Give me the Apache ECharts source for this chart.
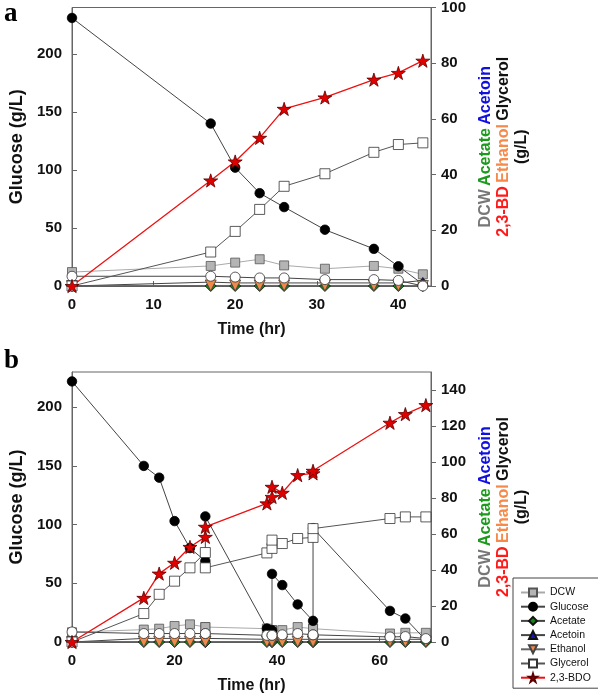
<!DOCTYPE html>
<html><head><meta charset="utf-8">
<script src="https://cdn.jsdelivr.net/npm/echarts@6/dist/echarts.min.js"></script>
<style>html,body{margin:0;padding:0;background:#fff}#c{width:598px;height:698px}</style>
</head><body><div id="c"></div>
<script>
// ---- Panel a ----
const timeA     = [0, 17, 20, 23, 26, 31, 37, 40, 43];
const glucoseA  = [231, 140, 102, 80, 68, 48.5, 32, 17, 1.5];
const dcwA      = [5.0, 7.2, 8.4, 9.6, 7.4, 6.2, 7.2, 6.2, 4.2];
const acetateA  = [0, 0, 0, 0, 0, 0, 0, 0, 0];
const acetoinA  = [0, 1.4, 1.1, 1.1, 1.1, 1.1, 1.1, 1.1, 2];
const ethanolA  = [0, 0.2, 0.2, 0.2, 0.2, 0.2, 0.2, 0.2, 0];
const glycerolA = [0, 12.2, 19.6, 27.5, 35.8, 40.3, 48, 50.8, 51.4];
const bdoA      = [0, 37.9, 44.7, 53.2, 63.6, 67.7, 74.1, 76.5, 80.9];
const otherA    = [3.5, 3.5, 3.2, 2.9, 2.9, 2.3, 2.3, 2.0, 0];
// ---- Panel b ----
const timeB     = [0, 14, 17, 20, 23, 26, 26, 38, 39, 39, 41, 44, 47, 47, 62, 65, 69];
const glucoseB  = [222, 150, 140, 103, 80, 69, 107, 11.5, 10, 58, 48.5, 32, 18, 97, 26.5, 20, 1.5];
const dcwB      = [5.4, 6.9, 7.4, 8.9, 9.8, 8.3, 8.3, 7.4, 6.6, 6.6, 6.6, 8.3, 7.4, 7.4, 4.7, 5.1, 5.1];
const acetateB  = [0, 0, 0, 0, 0, 0, 0, 0, 0, 0, 0, 0, 0, 0, 0, 0, 0];
const acetoinB  = [0, 2, 2, 2, 2, 2, 2, 1.5, 1.5, 1.5, 1.5, 1.5, 1.5, 1.5, 1.5, 1.5, 1.5];
const ethanolB  = [0, 0.2, 0.2, 0.2, 0.2, 0.2, 0.2, 0.2, 0.2, 0.2, 0.2, 0.2, 0.2, 0.2, 0.2, 0.2, 0.2];
const glycerolB = [0, 15.8, 26.5, 33.8, 41.2, 49.7, 41.2, 49.5, 52, 56.6, 54.7, 57.5, 58.1, 63, 68.6, 69.5, 69.5];
const bdoB      = [0, 24.5, 38, 44, 52.8, 58.4, 64, 77, 80.6, 86.2, 82.9, 92.7, 93.7, 95.1, 121.8, 126.6, 131.6];
const otherB    = [5.6, 4.7, 4.7, 4.7, 4.7, 4.7, 4.7, 3.7, 3.7, 3.7, 4, 4.7, 4, 4, 2.8, 3, 1.9];
// ---- Axis ticks ----
const xTicksA = [0, 10, 20, 30, 40];
const xTicksB = [0, 20, 40, 60];
const glucoseTicks = [0, 50, 100, 150, 200];
const rightTicksA = [0, 20, 40, 60, 80, 100];
const rightTicksB = [0, 20, 40, 60, 80, 100, 120, 140];
const legendNames = ['DCW', 'Glucose', 'Acetate', 'Acetoin', 'Ethanol', 'Glycerol', '2,3-BDO'];

const FONT = 'Liberation Sans, Arial, sans-serif';
const STAR = 'path://M50,0 L61,35 L98,35 L68,57 L79,91 L50,70 L21,91 L32,57 L2,35 L39,35 Z';
const pairs = (t, v) => t.map((x, i) => [x, v[i]]);

const styles = {
  'DCW':      {symbol: 'rect', size: 9, fill: '#b4b4b4', border: '#555', line: '#aaaaaa'},
  'Glucose':  {symbol: 'circle', size: 9.5, fill: '#000', border: '#000', line: '#444'},
  'Acetate':  {symbol: 'diamond', size: 11, fill: '#1a7f1a', border: '#111', line: '#444'},
  'Acetoin':  {symbol: 'triangle', size: 6, fill: '#1515c8', border: '#111', line: '#444'},
  'Ethanol':  {symbol: 'triangle', size: 11, fill: '#f0894a', border: '#444', line: '#666', rot: 180},
  'Other':    {symbol: 'circle', size: 10, fill: '#fff', border: '#333', line: '#444'},
  'Glycerol': {symbol: 'rect', size: 10, fill: '#fff', border: '#333', line: '#555'},
  '2,3-BDO':  {symbol: STAR, size: 14, fill: '#e00000', border: '#5a0000', line: '#ee1010', lw: 1.3}
};

function mk(name, t, v, xi, yi) {
  const s = styles[name];
  return {
    name: name, type: 'line', xAxisIndex: xi, yAxisIndex: yi,
    data: pairs(t, v), symbol: s.symbol, symbolSize: s.size, symbolRotate: s.rot || 0,
    symbolKeepAspect: true, showAllSymbol: true,
    itemStyle: {color: s.fill, borderColor: s.border, borderWidth: 0.8},
    lineStyle: {color: s.line, width: s.lw || 1},
    emphasis: {disabled: true}, animation: false
  };
}

function seriesFor(t, d, xi, yl, yr) {
  return [
    mk('DCW', t, d.dcw, xi, yr),
    mk('Glucose', t, d.glucose, xi, yl),
    mk('Acetate', t, d.acetate, xi, yr),
    mk('Acetoin', t, d.acetoin, xi, yr),
    mk('Ethanol', t, d.ethanol, xi, yr),
    mk('Other', t, d.other, xi, yr),
    mk('Glycerol', t, d.glycerol, xi, yr),
    mk('2,3-BDO', t, d.bdo, xi, yr)
  ];
}

const lab = {fontFamily: FONT, fontWeight: 'bold', fontSize: 15, color: '#111'};
const axisLine = {show: true, lineStyle: {color: '#666', width: 1}};
const rightName = '{g|DCW} {gr|Acetate} {b|Acetoin}\n{r|2,3-BD} {o|Ethanol} {k|Glycerol}\n{k|(g/L)}';
const rich = {
  g: {color: '#777', fontFamily: FONT, fontWeight: 'bold', fontSize: 16},
  gr: {color: '#1c9a1c', fontFamily: FONT, fontWeight: 'bold', fontSize: 16},
  b: {color: '#1010e0', fontFamily: FONT, fontWeight: 'bold', fontSize: 16},
  r: {color: '#ff1a1a', fontFamily: FONT, fontWeight: 'bold', fontSize: 16},
  o: {color: '#f58a4a', fontFamily: FONT, fontWeight: 'bold', fontSize: 16},
  k: {color: '#111', fontFamily: FONT, fontWeight: 'bold', fontSize: 16}
};

function xAx(gi, max, ticks) {
  return {
    type: 'value', gridIndex: gi, min: 0, max: max,
    axisLine: axisLine, splitLine: {show: false},
    axisTick: {inside: true, length: 5, customValues: ticks, lineStyle: {color: '#666'}},
    axisLabel: Object.assign({margin: 11, customValues: ticks}, lab),
    name: 'Time (hr)', nameLocation: 'middle', nameGap: 36,
    nameTextStyle: {fontFamily: FONT, fontWeight: 'bold', fontSize: 16, color: '#111'}
  };
}
function yLeft(gi, max) {
  return {
    type: 'value', gridIndex: gi, position: 'left', min: 0, max: max,
    axisLine: axisLine, splitLine: {show: false},
    axisTick: {inside: true, length: 5, customValues: glucoseTicks, lineStyle: {color: '#666'}},
    axisLabel: Object.assign({margin: 10, customValues: glucoseTicks}, lab),
    name: 'Glucose (g/L)', nameLocation: 'middle', nameGap: 46, nameRotate: 90,
    nameTextStyle: {fontFamily: FONT, fontWeight: 'bold', fontSize: 18, color: '#111'}
  };
}
function yRight(gi, max, ticks) {
  return {
    type: 'value', gridIndex: gi, position: 'right', min: 0, max: max,
    axisLine: axisLine, splitLine: {show: false},
    axisTick: {inside: false, length: 5, customValues: ticks, lineStyle: {color: '#666'}},
    axisLabel: Object.assign({margin: 10, customValues: ticks}, lab),
    name: rightName, nameLocation: 'middle', nameGap: 41, nameRotate: 90,
    nameTextStyle: {rich: rich, lineHeight: 18, align: 'center'}
  };
}

const option = {
  animation: false,
  backgroundColor: '#fff',
  grid: [
    {left: 65, right: 167, top: 7, bottom: 412, show: true, borderColor: '#666', borderWidth: 1},
    {left: 65, right: 167, top: 372, bottom: 56, show: true, borderColor: '#666', borderWidth: 1}
  ],
  xAxis: [xAx(0, 44, xTicksA), xAx(1, 70, xTicksB)],
  yAxis: [yLeft(0, 240), yRight(0, 100, rightTicksA), yLeft(1, 230), yRight(1, 150, rightTicksB)],
  legend: {
    data: legendNames, orient: 'vertical', left: 513, top: 578,
    padding: [9, 8, 5, 7], itemGap: 3.2, itemWidth: 24, itemHeight: 10,
    borderColor: '#444', borderWidth: 1, backgroundColor: '#fff',
    textStyle: {fontFamily: FONT, fontSize: 10.5, color: '#111'}
  },
  graphic: [
    {type: 'text', left: 4, top: 1, style: {text: 'a', font: 'bold 27px "Liberation Serif", serif', fill: '#000'}},
    {type: 'text', left: 4, top: 348, style: {text: 'b', font: 'bold 27px "Liberation Serif", serif', fill: '#000'}}
  ],
  series: [].concat(
    seriesFor(timeA, {dcw: dcwA, glucose: glucoseA, acetate: acetateA, acetoin: acetoinA, ethanol: ethanolA, other: otherA, glycerol: glycerolA, bdo: bdoA}, 0, 0, 1),
    seriesFor(timeB, {dcw: dcwB, glucose: glucoseB, acetate: acetateB, acetoin: acetoinB, ethanol: ethanolB, other: otherB, glycerol: glycerolB, bdo: bdoB}, 1, 2, 3)
  )
};
const chart = echarts.init(document.getElementById('c'), null, {renderer: 'canvas'});
chart.setOption(option);
</script></body></html>
